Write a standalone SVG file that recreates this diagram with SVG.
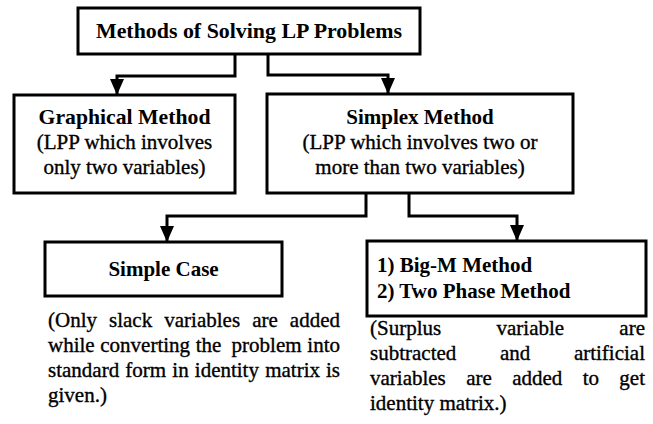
<svg xmlns="http://www.w3.org/2000/svg" width="653" height="424" viewBox="0 0 653 424">
<style>
.box{fill:#fff;stroke:#000;stroke-width:3}
.con{fill:none;stroke:#000;stroke-width:3}
text{font-family:"Liberation Serif","Times New Roman",serif;font-size:21px;fill:#000}
.b{font-weight:bold}
.r{stroke:#000;stroke-width:0.35}
.m{text-anchor:middle}
</style>
<defs>
<marker id="ah" markerUnits="userSpaceOnUse" markerWidth="16" markerHeight="14" refX="15" refY="7" orient="auto" viewBox="0 0 16 14">
<path d="M0,0 L16,7 L0,14 Z" fill="#000"/>
</marker>
</defs>
<rect width="653" height="424" fill="#fff"/>
<g id="connectors">
<path class="con" d="M235,54 V76 H117 V94" marker-end="url(#ah)"/>
<path class="con" d="M268,54 V75 H388 V93" marker-end="url(#ah)"/>
<path class="con" d="M366,193 V216 H167 V241" marker-end="url(#ah)"/>
<path class="con" d="M409,193 V216 H517 V240" marker-end="url(#ah)"/>
</g>
<g id="root">
<rect class="box" x="78" y="8" width="342" height="46"/>
<text class="b m" x="249" y="38" textLength="306" lengthAdjust="spacingAndGlyphs">Methods of Solving LP Problems</text>
</g>
<g id="graphical">
<rect class="box" x="14" y="95" width="221" height="98"/>
<text class="b m" x="124.5" y="124" textLength="172" lengthAdjust="spacingAndGlyphs">Graphical Method</text>
<text class="r m" x="124.5" y="149">(LPP which involves</text>
<text class="r m" x="124.5" y="174">only two variables)</text>
</g>
<g id="simplex">
<rect class="box" x="267" y="94" width="306" height="99"/>
<text class="b m" x="420" y="124">Simplex Method</text>
<text class="r m" x="420" y="149">(LPP which involves two or</text>
<text class="r m" x="420" y="174">more than two variables)</text>
</g>
<g id="simple-case">
<rect class="box" x="45" y="242" width="237" height="54"/>
<text class="b m" x="163.5" y="276">Simple Case</text>
</g>
<g id="bigm">
<rect class="box" x="367" y="241" width="279" height="75"/>
<text class="b" x="377" y="272">1) Big-M Method</text>
<text class="b" x="377" y="298">2) Two Phase Method</text>
</g>
<g id="note-simple">
<text class="r" y="327"><tspan x="48">(Only</tspan><tspan x="109">slack</tspan><tspan x="164.3">variables</tspan><tspan x="252.2">are</tspan><tspan x="340" text-anchor="end">added</tspan></text>
<text class="r" y="352"><tspan x="48">while</tspan><tspan x="100.3">converting</tspan><tspan x="195.7">the</tspan><tspan x="231.6">problem</tspan><tspan x="340" text-anchor="end">into</tspan></text>
<text class="r" y="377"><tspan x="48">standard</tspan><tspan x="125.3">form</tspan><tspan x="172.3">in</tspan><tspan x="194.8">identity</tspan><tspan x="265.2">matrix</tspan><tspan x="340" text-anchor="end">is</tspan></text>
<text class="r" x="48" y="402">given.)</text>
</g>
<g id="note-bigm">
<text class="r" y="335"><tspan x="370">(Surplus</tspan><tspan x="496.5">variable</tspan><tspan x="645" text-anchor="end">are</tspan></text>
<text class="r" y="360"><tspan x="370">subtracted</tspan><tspan x="500">and</tspan><tspan x="645" text-anchor="end">artificial</tspan></text>
<text class="r" y="385"><tspan x="370">variables</tspan><tspan x="466.2">are</tspan><tspan x="512.2">added</tspan><tspan x="582.7">to</tspan><tspan x="645" text-anchor="end">get</tspan></text>
<text class="r" x="370" y="410">identity matrix.)</text>
</g>
</svg>
